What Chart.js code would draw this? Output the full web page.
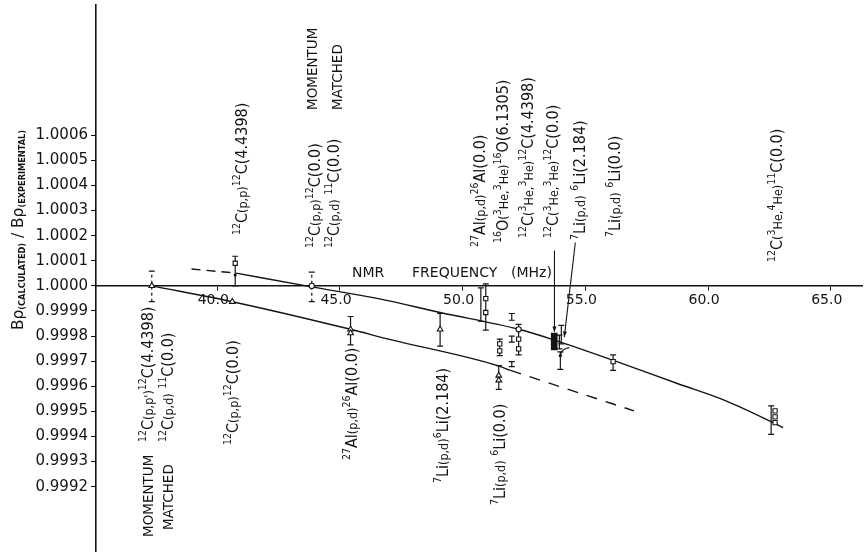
<!DOCTYPE html>
<html>
<head>
<meta charset="utf-8">
<title>B-rho ratio vs NMR frequency</title>
<script src="https://cdn.jsdelivr.net/npm/chart.js@4.4.1/dist/chart.umd.min.js"></script>
<style>
  html, body { margin: 0; padding: 0; background: #fff; }
  #c { display: block; }
</style>
</head>
<body>
<canvas id="c" width="867" height="556"></canvas>
<script>
// ---- measured points: NMR frequency (MHz) and B-rho(calc)/B-rho(exp) ----
const triFreq   = [37.33, 40.61, 45.43, 45.43, 49.08, 51.47, 51.47];
const triRatio  = [1.000000, 0.999937, 0.999827, 0.999812, 0.999827, 0.999643, 0.999624];

const sqFreq    = [40.73, 50.94, 50.94, 51.51, 51.51, 52.28, 52.28, 56.13, 62.73, 62.73, 62.73];
const sqRatio   = [1.000090, 0.999949, 0.999894, 0.999769, 0.999741, 0.999788, 0.999749, 0.999698, 0.999502, 0.999478, 0.999455];

const circFreq  = [43.85, 52.28];
const circRatio = [1.000000, 0.999827];

const dotFreq   = [40.73, 53.98];
const dotRatio  = [1.000043, 0.999722];

// cluster of unresolved points near 53.7 MHz (drawn as a filled block)
const blockFreq = [53.73];
const blockLow  = [0.999745];
const blockHigh = [0.999812];

// error bars
const errFreq = [40.73, 45.43, 49.08, 50.74, 50.94, 51.51, 51.47, 52.00, 52.00, 52.00, 52.28, 53.94, 54.02, 53.98, 56.13, 62.57];
const errLow  = [1.000000, 0.999765, 0.999760, 0.999859, 0.999824, 0.999722, 0.999588, 0.999863, 0.999776, 0.999678, 0.999725, 0.999749, 0.999769, 0.999667, 0.999663, 0.999408];
const errHigh = [1.000118, 0.999878, 0.999890, 0.999992, 1.000008, 0.999788, 0.999682, 0.999890, 0.999800, 0.999698, 0.999847, 0.999804, 0.999843, 0.999737, 0.999725, 0.999522];

// momentum-matched calibration points (dashed error bars)
const mmErrFreq = [37.33, 43.85];
const mmErrLow  = [0.999937, 0.999937];
const mmErrHigh = [1.000059, 1.000055];

// ---- fitted calibration curves ----
const upperFitFreq  = [40.77, 43.85, 46.56, 49.08, 52.28, 53.74, 56.17, 58.72, 60.75, 62.57, 63.06];
const upperFitRatio = [1.000051, 0.999996, 0.999949, 0.999894, 0.999827, 0.999784, 0.999702, 0.999612, 0.999541, 0.999459, 0.999435];
const upperExtFreq  = [38.95, 40.77];
const upperExtRatio = [1.000067, 1.000051];

const lowerFitFreq  = [37.33, 40.61, 45.43, 46.97, 51.43, 51.95];
const lowerFitRatio = [1.000000, 0.999937, 0.999827, 0.999788, 0.999682, 0.999663];
const lowerExtFreq  = [51.95, 56.98];
const lowerExtRatio = [0.999663, 0.999502];

// leader arrows from the crowded labels to their points: [freqFrom, ratioFrom, freqTo, ratioTo]
const leaderFromFreq  = [53.74, 54.59];
const leaderFromRatio = [1.000141, 1.000173];
const leaderToFreq    = [53.74, 54.14];
const leaderToRatio   = [0.999816, 0.999796];

// ---- axis ticks ----
const xTicks = [40, 45, 50, 55, 60, 65];
const yTicks = [0.9992, 0.9993, 0.9994, 0.9995, 0.9996, 0.9997, 0.9998, 0.9999,
                1.0000, 1.0001, 1.0002, 1.0003, 1.0004, 1.0005, 1.0006];

// ---- reaction labels (text is written bottom-to-top) ----
// markup: ^NN superscript, [..] reduced-size reaction part, {..} subscript
const topLabels = [
  '^12C[(p,p)]^12C(4.4398)',
  '^12C[(p,p)]^12C(0.0)',
  '^12C[(p,d)] ^11C(0.0)',
  '^27Al[(p,d)]^26Al(0.0)',
  '^16O[(^3He,^3He)]^16O(6.1305)',
  '^12C[(^3He,^3He)]^12C(4.4398)',
  '^12C[(^3He,^3He)]^12C(0.0)',
  '^7Li[(p,d)] ^6Li(2.184)',
  '^7Li[(p,d)] ^6Li(0.0)',
  '^12C[(^3He,^4He)]^11C(0.0)'
];
const bottomLabels = [
  '^12C[(p,p\')]^12C(4.4398)',
  '^12C[(p,d)] ^11C(0.0)',
  '^12C[(p,p)]^12C(0.0)',
  '^27Al[(p,d)]^26Al(0.0)',
  '^7Li[(p,d)]^6Li(2.184)',
  '^7Li[(p,d)] ^6Li(0.0)'
];
// layout: baseline x and starting (lower) y of each label, in canvas pixels
const topLabelPos    = [[247, 235], [320, 248], [339, 248], [485, 247], [508, 243], [533, 238], [558, 238], [585, 240], [620, 237], [782, 262]];
const bottomLabelPos = [[153, 442], [173, 442], [238, 445], [357, 460], [448, 483], [505, 505]];

const INK = '#141414';
const zip = (xs, ys) => xs.map((x, i) => ({ x: x, y: ys[i] }));

const LABEL_STYLE = { family: "'DejaVu Sans Condensed','DejaVu Sans',sans-serif", N: 16, S: 12.5, U: 10.5, B: 8 };
const WORD_STYLE  = { family: "'DejaVu Sans',sans-serif", N: 13.5, S: 13.5, U: 10, B: 8 };
const TITLE_STYLE = { family: "'DejaVu Sans',sans-serif", N: 15, S: 12, U: 10, B: 8 };

function richSegments(str) {
  const out = [];
  let small = false, sub = false, buf = '';
  const flush = () => { if (buf) { out.push({ t: buf, small: small, sub: sub, sup: false }); buf = ''; } };
  for (let i = 0; i < str.length; i++) {
    const c = str[i];
    if (c === '^') {
      flush();
      let j = i + 1, d = '';
      while (j < str.length && /[0-9]/.test(str[j])) { d += str[j]; j++; }
      out.push({ t: d, sup: true, small: small, sub: sub });
      i = j - 1;
    } else if (c === '[') { flush(); small = true; }
    else if (c === ']') { flush(); small = false; }
    else if (c === '{') { flush(); sub = true; }
    else if (c === '}') { flush(); sub = false; }
    else buf += c;
  }
  flush();
  return out;
}

function segFont(s, st) {
  if (s.sup) return st.U + 'px ' + st.family;
  if (s.sub) return 'bold ' + st.B + 'px ' + st.family;
  if (s.small) return st.S + 'px ' + st.family;
  return st.N + 'px ' + st.family;
}

function measureRich(ctx, str, st) {
  let w = 0;
  for (const s of richSegments(str)) { ctx.font = segFont(s, st); w += ctx.measureText(s.t).width; }
  return w;
}

function drawRich(ctx, str, x, y, st) {
  let cx = 0;
  for (const s of richSegments(str)) {
    ctx.font = segFont(s, st);
    let dy = 0;
    if (s.sup) dy = -st.N * 0.46;
    else if (s.sub) dy = st.N * 0.14;
    ctx.fillText(s.t, x + cx, y + dy);
    cx += ctx.measureText(s.t).width;
  }
  return cx;
}

function drawVertical(ctx, str, bx, y0, st, fitLen) {
  ctx.save();
  ctx.translate(bx, y0);
  ctx.rotate(-Math.PI / 2);
  if (fitLen) ctx.scale(fitLen / measureRich(ctx, str, st), 1);
  ctx.textAlign = 'left';
  ctx.textBaseline = 'alphabetic';
  ctx.fillStyle = INK;
  drawRich(ctx, str, 0, 0, st);
  ctx.restore();
}

function arrowHead(ctx, x1, y1, x2, y2, size) {
  const a = Math.atan2(y2 - y1, x2 - x1);
  ctx.beginPath();
  ctx.moveTo(x2, y2);
  ctx.lineTo(x2 - size * Math.cos(a - 0.35), y2 - size * Math.sin(a - 0.35));
  ctx.lineTo(x2 - size * Math.cos(a + 0.35), y2 - size * Math.sin(a + 0.35));
  ctx.closePath();
  ctx.fill();
}

// error bars go underneath the markers
const errorBarPlugin = {
  id: 'errorBars',
  beforeDatasetsDraw(chart) {
    const { ctx, scales: { x, y } } = chart;
    ctx.save();
    ctx.strokeStyle = INK;
    ctx.lineWidth = 1.2;
    const bar = (f, lo, hi, dashed) => {
      const px = x.getPixelForValue(f);
      const pLo = y.getPixelForValue(lo), pHi = y.getPixelForValue(hi);
      ctx.setLineDash(dashed ? [3, 3] : []);
      ctx.beginPath(); ctx.moveTo(px, pLo); ctx.lineTo(px, pHi); ctx.stroke();
      ctx.setLineDash([]);
      ctx.beginPath();
      ctx.moveTo(px - 3, pLo); ctx.lineTo(px + 3, pLo);
      ctx.moveTo(px - 3, pHi); ctx.lineTo(px + 3, pHi);
      ctx.stroke();
    };
    errFreq.forEach((f, i) => bar(f, errLow[i], errHigh[i], false));
    mmErrFreq.forEach((f, i) => bar(f, mmErrLow[i], mmErrHigh[i], true));
    ctx.restore();
  }
};

const annotationPlugin = {
  id: 'annotations',
  afterDraw(chart) {
    const { ctx, scales: { x, y } } = chart;
    ctx.save();
    ctx.fillStyle = INK;
    ctx.strokeStyle = INK;

    // reaction labels
    topLabels.forEach((t, i) => drawVertical(ctx, t, topLabelPos[i][0], topLabelPos[i][1], LABEL_STYLE));
    bottomLabels.forEach((t, i) => drawVertical(ctx, t, bottomLabelPos[i][0], bottomLabelPos[i][1], LABEL_STYLE));

    // momentum-matched notes
    drawVertical(ctx, 'MOMENTUM', 317, 110, WORD_STYLE);
    drawVertical(ctx, 'MATCHED', 342, 110, WORD_STYLE);
    drawVertical(ctx, 'MOMENTUM', 153, 537, WORD_STYLE);
    drawVertical(ctx, 'MATCHED', 173, 530, WORD_STYLE);

    // y-axis title
    drawVertical(ctx, 'B\u03C1{(CALCULATED)} / B\u03C1{(EXPERIMENTAL)}', 23, 330, TITLE_STYLE, 200);

    // x-axis title sitting on the axis line
    ctx.font = "14px 'DejaVu Sans',sans-serif";
    ctx.textAlign = 'left';
    ctx.textBaseline = 'alphabetic';
    ctx.fillText('NMR', 352, 277);
    ctx.fillText('FREQUENCY', 412, 277);
    ctx.fillText('(MHz)', 511, 277);

    // leader arrows
    ctx.lineWidth = 1.1;
    leaderFromFreq.forEach((f, i) => {
      const x1 = x.getPixelForValue(f), y1 = y.getPixelForValue(leaderFromRatio[i]);
      const x2 = x.getPixelForValue(leaderToFreq[i]), y2 = y.getPixelForValue(leaderToRatio[i]);
      ctx.beginPath(); ctx.moveTo(x1, y1); ctx.lineTo(x2, y2); ctx.stroke();
      arrowHead(ctx, x1, y1, x2, y2, 6);
    });

    // hook joining the low 7Li point to the curve
    const hx = x.getPixelForValue(dotFreq[1]), hy = y.getPixelForValue(dotRatio[1]);
    ctx.beginPath();
    ctx.moveTo(hx, hy);
    ctx.quadraticCurveTo(hx + 1, hy - 7, hx + 9, hy - 8);
    ctx.stroke();
    ctx.restore();
  }
};

Chart.defaults.font.family = "'DejaVu Sans',sans-serif";
Chart.defaults.color = INK;

const markerCommon = { borderColor: INK, backgroundColor: '#fff', borderWidth: 1.1, pointHoverRadius: 0 };
const lineCommon = { type: 'line', borderColor: INK, borderWidth: 1.4, pointRadius: 0, fill: false, cubicInterpolationMode: 'monotone' };

new Chart(document.getElementById('c'), {
  type: 'scatter',
  data: {
    datasets: [
      Object.assign({ label: 'triangles', data: zip(triFreq, triRatio), pointStyle: 'triangle', pointRadius: 3.3 }, markerCommon),
      Object.assign({ label: 'squares', data: zip(sqFreq, sqRatio), pointStyle: 'rect', pointRadius: 3 }, markerCommon),
      Object.assign({ label: 'circles', data: zip(circFreq, circRatio), pointStyle: 'circle', pointRadius: 2.6 }, markerCommon),
      { label: 'dots', data: zip(dotFreq, dotRatio), pointStyle: 'circle', pointRadius: 1.6, borderColor: INK, backgroundColor: INK, borderWidth: 0 },
      { type: 'bar', label: 'cluster', data: blockFreq.map((f, i) => ({ x: f, y: [blockLow[i], blockHigh[i]] })),
        backgroundColor: INK, borderWidth: 0, barThickness: 6 },
      Object.assign({ label: 'upper fit', data: zip(upperFitFreq, upperFitRatio) }, lineCommon),
      Object.assign({ label: 'upper extension', data: zip(upperExtFreq, upperExtRatio), borderDash: [9, 6] }, lineCommon),
      Object.assign({ label: 'lower fit', data: zip(lowerFitFreq, lowerFitRatio) }, lineCommon),
      Object.assign({ label: 'lower extension', data: zip(lowerExtFreq, lowerExtRatio), borderDash: [11, 9] }, lineCommon)
    ]
  },
  options: {
    responsive: false,
    animation: false,
    devicePixelRatio: 1,
    layout: { padding: 0 },
    plugins: { legend: { display: false }, tooltip: { enabled: false } },
    scales: {
      x: {
        type: 'linear',
        min: 35.057,
        max: 66.297,
        offset: false,
        position: { y: 1.0 },
        afterBuildTicks: s => { s.ticks = xTicks.map(v => ({ value: v })); },
        afterFit: s => { s.paddingLeft = 0; s.paddingRight = 0; },
        ticks: {
          autoSkip: false, maxRotation: 0, padding: 2, labelOffset: -4,
          font: { size: 14 }, color: INK,
          callback: v => Number(v).toFixed(1)
        },
        grid: { drawOnChartArea: false, drawTicks: true, tickLength: 4, color: INK, offset: false },
        border: { display: true, color: INK, width: 1.6 }
      },
      y: {
        type: 'linear',
        position: 'left',
        min: 0.9989412,
        max: 1.0011216,
        afterBuildTicks: s => { s.ticks = yTicks.map(v => ({ value: v })); },
        afterFit: s => { s.width = 96; s.paddingTop = 0; s.paddingBottom = 0; },
        ticks: {
          autoSkip: false, padding: 3,
          font: { size: 15 }, color: INK,
          callback: v => Number(v).toFixed(4)
        },
        grid: { drawOnChartArea: false, drawTicks: true, tickLength: 5, color: INK },
        border: { display: true, color: INK, width: 1.6 }
      }
    }
  },
  plugins: [errorBarPlugin, annotationPlugin]
});
</script>
</body>
</html>
